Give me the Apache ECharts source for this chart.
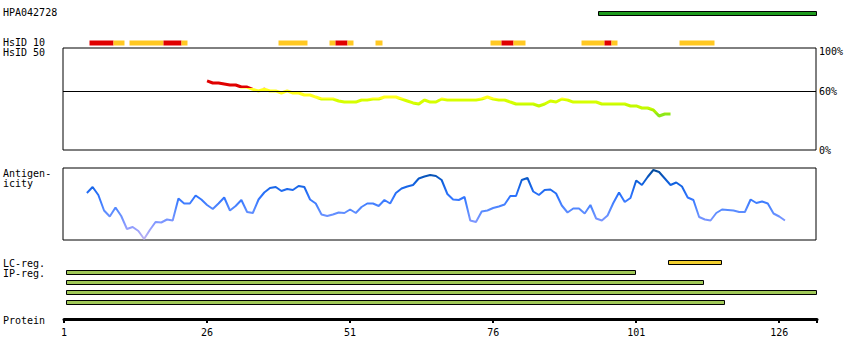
<!DOCTYPE html>
<html><head><meta charset="utf-8">
<script src="https://cdn.jsdelivr.net/npm/echarts@6/dist/echarts.min.js"></script>
<style>html,body{margin:0;padding:0;background:#fff}#c{width:850px;height:360px}</style>
</head><body><div id="c"></div>
<script>
// ---------- data ----------
const antibodyName = 'HPA042728';
const proteinTicks = [1, 26, 51, 76, 101, 126];
const proteinEnd = 132.6;
const percentTicks = [0, 60, 100];
const hsid50Start = 26;
const hsid50Values = [70.4, 68.3, 68.3, 67.3, 66.3, 66.3, 64.2, 64.2, 61.8, 60.2,
  61.9, 60.2, 60.2, 58.1, 60.2, 58.1, 58.1, 56.1, 56.1, 54.0,
  52.0, 52.0, 52.0, 50.0, 48.9, 48.9, 48.9, 51.0, 51.0, 52.0,
  52.0, 54.0, 54.0, 54.0, 52.0, 50.0, 48.0, 46.9, 51.0, 48.9,
  48.9, 52.0, 51.0, 51.0, 51.0, 51.0, 51.0, 51.0, 52.0, 54.0,
  52.0, 51.0, 51.0, 48.9, 46.9, 46.9, 46.9, 46.9, 44.9, 46.9,
  50.0, 48.9, 52.0, 51.0, 48.9, 48.9, 48.9, 48.9, 48.9, 46.9,
  46.9, 46.9, 46.9, 46.9, 44.9, 44.9, 42.8, 42.8, 40.8, 34.7,
  36.7, 36.7];
const antigenStart = 5;
const antigenValues = [47, 53, 45, 29.5, 23.5, 32.5, 24, 11, 13, 9,
  1, 10, 18, 17.5, 20.5, 19.5, 41.5, 36.5, 36.5, 44.5,
  40.5, 35, 31, 36.5, 42.5, 29.5, 34, 40, 28, 27,
  40.5, 47.5, 52, 53, 49, 51, 50, 54, 53, 40.5,
  36.5, 25.5, 24, 25.5, 27.5, 27, 30.5, 27, 33, 36.5,
  36.5, 34, 40, 36.5, 47, 51.5, 53.5, 55, 61.5, 63.5,
  65, 64, 60, 46, 40.5, 40, 43, 19.5, 18, 28.5,
  29.5, 32, 33.5, 35.5, 44, 44, 60, 62, 48.5, 45,
  50, 50.5, 46.5, 34.5, 27.5, 31.5, 31.5, 26.5, 35, 21.5,
  19.5, 24.5, 37, 47.5, 38, 42, 59.5, 55, 63, 70,
  68, 61.5, 55, 57.5, 53.5, 42.5, 40, 23, 20.5, 19.5,
  27, 30.5, 30, 29.5, 28, 28, 40.5, 37, 38.5, 36.5,
  26.5, 23.5, 19.5];
const antigenRegion = [[94.4, 132.5]];
const hsid10Segments = [
  [5.4, 9.6, 'high'], [9.6, 11.5, 'mid'], [12.4, 18.3, 'mid'], [18.3, 21.45, 'high'],
  [21.45, 22.5, 'mid'], [38.4, 43.4, 'mid'], [47.3, 48.4, 'mid'], [48.4, 50.5, 'high'],
  [50.5, 51.5, 'mid'], [55.35, 56.6, 'mid'], [75.45, 77.4, 'mid'], [77.4, 79.5, 'high'],
  [79.5, 81.6, 'mid'], [91.35, 95.4, 'mid'], [95.4, 96.6, 'high'], [96.6, 97.65, 'mid'],
  [108.5, 114.6, 'mid']];
const lcRegions = [[106.5, 115.7]];
const ipRegions = [[1.35, 100.8], [1.35, 112.6], [1.35, 132.5], [1.35, 116.4]];
const labelTexts = {
  name: antibodyName, hs10: 'HsID 10', hs50: 'HsID 50',
  ag1: 'Antigen-', ag2: 'icity', lc: 'LC-reg.', ip: 'IP-reg.', prot: 'Protein'
};

// ---------- layout / styles ----------
const FONT = '10px "DejaVu Sans Mono"';
const X0 = 0.825, X1 = 132.425;   // residue coords at the box edges (x=63..816)
const hsColors = { high: '#e00000', mid: '#ffc822' };

function trackGrid(top, height) { return { left: 63, width: 753, top, height, show: false }; }

function barRender(h, fillFor, stroke) {
  return function (params, api) {
    const row = api.value(2);
    const a = api.coord([api.value(0), row]);
    const b = api.coord([api.value(1), row]);
    return {
      type: 'rect',
      shape: { x: Math.round(a[0]) + 0.5, y: Math.round(a[1] - h / 2) + 0.5, width: Math.round(b[0] - a[0]), height: h },
      style: { fill: fillFor(params.dataIndex), stroke: stroke, lineWidth: stroke ? 1 : 0 }
    };
  };
}

const chart = echarts.init(document.getElementById('c'), null, { renderer: 'svg' });

const grids = [
  { left: 63, width: 753, top: 48, height: 102, show: true, borderColor: '#000', borderWidth: 1 }, // 0 HsID 50 box
  { left: 63, width: 753, top: 168, height: 72, show: true, borderColor: '#000', borderWidth: 1 }, // 1 antigenicity box
  trackGrid(7.5, 10),   // 2 antigen region
  trackGrid(37.5, 10),  // 3 HsID 10
  trackGrid(257.3, 10), // 4 LC
  trackGrid(267.3, 40), // 5 IP
  { left: 64, width: 753, top: 300, height: 19, show: false } // 6 protein axis
];

const hiddenX = (gi) => ({ type: 'value', gridIndex: gi, min: X0, max: X1, show: false });
const catY = (gi, n) => ({ type: 'category', gridIndex: gi, data: Array.from({ length: n }, (_, i) => i), inverse: true, show: false });

const option = {
  animation: false,
  backgroundColor: '#fff',
  grid: grids,
  xAxis: [
    hiddenX(0), hiddenX(1), hiddenX(2), hiddenX(3), hiddenX(4), hiddenX(5),
    {
      type: 'value', gridIndex: 6, min: 1, max: proteinEnd, position: 'bottom',
      axisLine: { show: true, lineStyle: { color: '#000', width: 3 } },
      axisTick: { show: true, customValues: proteinTicks.concat([proteinEnd]), length: 4, lineStyle: { color: '#000', width: 2 } },
      axisLabel: { show: true, customValues: proteinTicks, margin: 8, color: '#000', fontFamily: 'DejaVu Sans Mono', fontSize: 10 },
      splitLine: { show: false }
    }
  ],
  yAxis: [
    {
      type: 'value', gridIndex: 0, min: 0, max: 104, position: 'right',
      axisLine: { show: false }, axisTick: { show: false }, splitLine: { show: false },
      axisLabel: { show: true, customValues: percentTicks, formatter: v => v + '%', margin: 3, color: '#000', fontFamily: 'DejaVu Sans Mono', fontSize: 10 }
    },
    { type: 'value', gridIndex: 1, min: 0, max: 72, show: false },
    catY(2, 1), catY(3, 1), catY(4, 1), catY(5, 4),
    { type: 'value', gridIndex: 6, show: false }
  ],
  visualMap: [
    {
      type: 'piecewise', show: false, seriesIndex: 0, dimension: 1,
      pieces: [
        { gte: 63, color: '#e00000' },
        { gte: 52, lt: 63, color: '#ffff1e' },
        { gte: 47, lt: 52, color: '#d6ff00' },
        { gte: 42, lt: 47, color: '#c4fa00' },
        { gte: 38, lt: 42, color: '#aef000' },
        { lt: 38, color: '#8ee818' }
      ]
    },
    {
      type: 'continuous', show: false, seriesIndex: 1, dimension: 1, min: 0, max: 72,
      inRange: { color: ['#c0b4f0', '#8a9aff', '#5a8cff', '#2f74ff', '#0f60dd', '#004690'] }
    }
  ],
  series: [
    {
      type: 'line', xAxisIndex: 0, yAxisIndex: 0, showSymbol: false, symbol: 'none',
      lineStyle: { width: 3 },
      data: hsid50Values.map((v, i) => [hsid50Start + i, v]),
      markLine: {
        silent: true, symbol: 'none', label: { show: false },
        lineStyle: { color: '#000', width: 1, type: 'solid' },
        data: [{ yAxis: percentTicks[1] }]
      }
    },
    {
      type: 'line', xAxisIndex: 1, yAxisIndex: 1, showSymbol: false, symbol: 'none',
      lineStyle: { width: 2 },
      data: antigenValues.map((v, i) => [antigenStart + i, v])
    },
    {
      type: 'custom', xAxisIndex: 2, yAxisIndex: 2,
      renderItem: barRender(4, () => '#1e9b1e', '#000'),
      data: antigenRegion.map(r => [r[0], r[1], 0])
    },
    {
      type: 'custom', xAxisIndex: 3, yAxisIndex: 3,
      renderItem: barRender(5, i => hsColors[hsid10Segments[i][2]], null),
      data: hsid10Segments.map(s => [s[0], s[1], 0])
    },
    {
      type: 'custom', xAxisIndex: 4, yAxisIndex: 4,
      renderItem: barRender(4, () => '#f2cf2e', '#000'),
      data: lcRegions.map(r => [r[0], r[1], 0])
    },
    {
      type: 'custom', xAxisIndex: 5, yAxisIndex: 5,
      renderItem: barRender(4, () => '#a0c858', '#000'),
      data: ipRegions.map((r, i) => [r[0], r[1], i])
    }
  ],
  graphic: [
    ['name', 12.7], ['hs10', 42.7], ['hs50', 52.7], ['ag1', 173.3], ['ag2', 183.3],
    ['lc', 263], ['ip', 273], ['prot', 320]
  ].map(([k, y]) => ({
    type: 'text', x: 3, y: y,
    style: { text: labelTexts[k], font: FONT, fill: '#000', verticalAlign: 'middle', align: 'left' }
  }))
};
chart.setOption(option);
</script></body></html>
